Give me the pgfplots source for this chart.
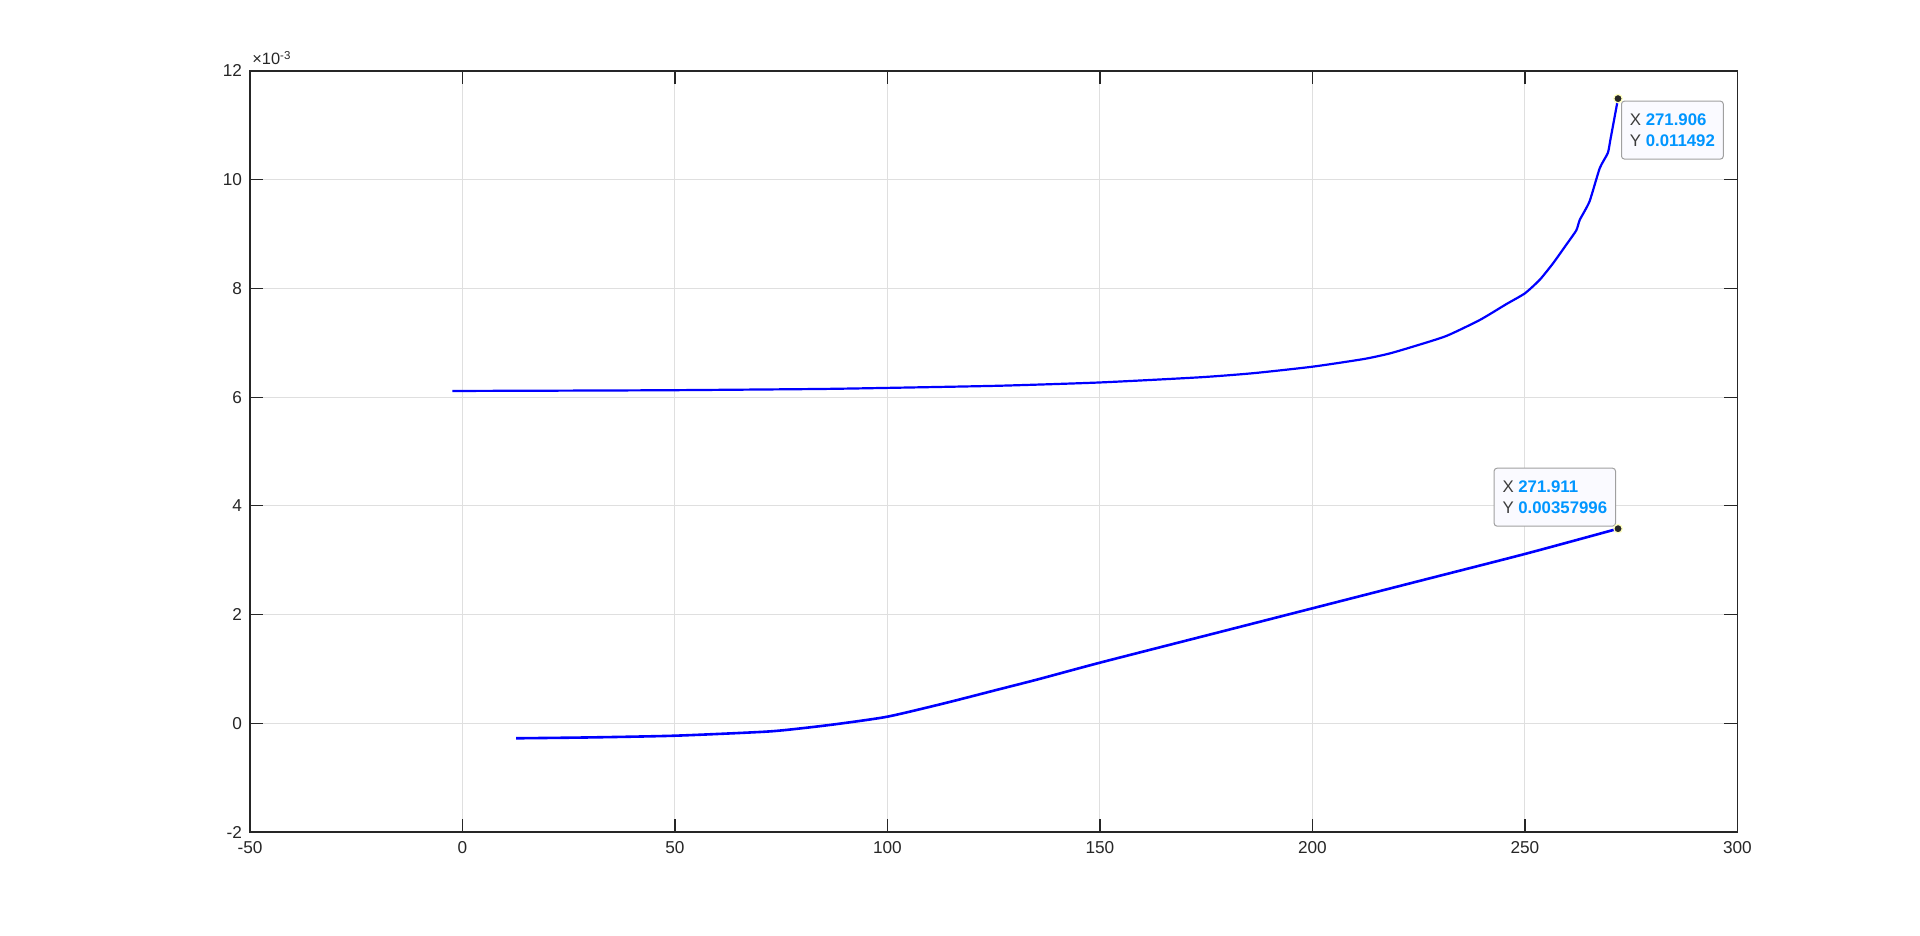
\documentclass[border=0pt]{standalone}
\usepackage{pgfplots}
\pgfplotsset{compat=1.18}
\usetikzlibrary{calc}
\usepackage{fontspec}
\setmainfont{Liberation Sans}
\definecolor{axc}{RGB}{38,38,38}
\definecolor{gridc}{RGB}{223,223,223}
\definecolor{tipblue}{RGB}{0,150,255}
\definecolor{tipfill}{RGB}{250,250,255}
\definecolor{tipedge}{RGB}{160,160,160}
\definecolor{tiptext}{RGB}{60,60,60}
\definecolor{markedge}{RGB}{255,255,190}
\begin{document}
\begin{tikzpicture}
\path[use as bounding box] (0,0) rectangle (960bp,468bp);
\begin{axis}[
  at={(125bp,52bp)}, anchor=south west,
  scale only axis, width=743.7bp, height=380.5bp,
  xmin=-50, xmax=300, ymin=-0.002, ymax=0.012,
  xtick={-50,0,50,100,150,200,250,300},
  ytick={-0.002,0,0.002,0.004,0.006,0.008,0.010,0.012},
  yticklabels={-2,0,2,4,6,8,10,12},
  scaled y ticks=false,
  /pgf/number format/assume math mode=true,
  xticklabel style={font=\fontsize{8.6bp}{10bp}\selectfont, text=axc, yshift=-1bp},
  yticklabel style={font=\fontsize{8.6bp}{10bp}\selectfont, text=axc, xshift=-0.5bp},
  tick align=inside, major tick length=6.5bp,
  tick style={axc, line width=0.6bp},
  axis line style={axc, line width=0.6bp},
  grid=major, major grid style={gridc, line width=0.5bp},
  clip=false,
]
% upper curve
\addplot[blue, line width=1.1bp, smooth, tension=0.35] coordinates {
(-2.4,6.113e-3) (0,6.114e-3) (25,6.120e-3) (50,6.128e-3) (84,6.150e-3) (100,6.170e-3)
(126.5,6.210e-3) (150,6.270e-3) (173.5,6.365e-3) (186,6.440e-3) (200,6.560e-3) (212,6.700e-3)
(218,6.800e-3) (223.7,6.930e-3) (231.5,7.125e-3) (239.4,7.420e-3) (245.6,7.710e-3) (250,7.910e-3)
(253.5,8.160e-3) (256.6,8.460e-3) (259.7,8.800e-3) (262.1,9.070e-3) (262.9,9.260e-3)
(265.2,9.600e-3) (267.6,10.210e-3) (269.5,10.490e-3) (270.1,10.730e-3) (271.906,11.492e-3)
};
% lower curve
\addplot[blue, line width=1.3bp, smooth, tension=0.4] coordinates {
(12.6,-0.276e-3) (30,-0.260e-3) (50.2,-0.228e-3) (71.4,-0.154e-3) (80,-0.090e-3)
(88.2,-0.013e-3) (100,0.122e-3) (113.4,0.368e-3) (126,0.620e-3) (135.5,0.810e-3)
(150,1.115e-3) (175,1.615e-3) (200,2.115e-3) (225,2.615e-3) (250,3.115e-3)
(271.911,3.57996e-3)
};
% data tip markers
\addplot[only marks, mark=*, mark size=2.1bp, mark options={fill=axc, draw=markedge, line width=0.6bp}] coordinates {
(271.906,0.011492) (271.911,0.00357996)
};
% data tips
\node[anchor=north west, draw=tipedge, fill=tipfill, rounded corners=1.5bp, line width=0.5bp,
  inner xsep=4.2bp, inner ysep=0pt, minimum height=29bp, minimum width=50.5bp, align=left,
  font=\fontsize{8.4bp}{10.3bp}\selectfont]
  at ($(axis cs:271.906,0.011492)+(1.5bp,-1bp)$)
  {\textcolor{tiptext}{X} \textcolor{tipblue}{\textbf{271.906}}\\\textcolor{tiptext}{Y} \textcolor{tipblue}{\textbf{0.011492}}};
\node[anchor=south east, draw=tipedge, fill=tipfill, rounded corners=1.5bp, line width=0.5bp,
  inner xsep=4.2bp, inner ysep=0pt, minimum height=29bp, minimum width=60bp, align=left,
  font=\fontsize{8.4bp}{10.3bp}\selectfont]
  at ($(axis cs:271.911,0.00357996)+(-1bp,1bp)$)
  {\textcolor{tiptext}{X} \textcolor{tipblue}{\textbf{271.911}}\\\textcolor{tiptext}{Y} \textcolor{tipblue}{\textbf{0.00357996}}};
% exponent
\node[anchor=base west, inner sep=0pt, text=axc, font=\fontsize{8.2bp}{10bp}\selectfont]
  at ($(rel axis cs:0,1)+(1bp,3bp)$) {×10\textsuperscript{-3}};
\end{axis}
\end{tikzpicture}
\end{document}
